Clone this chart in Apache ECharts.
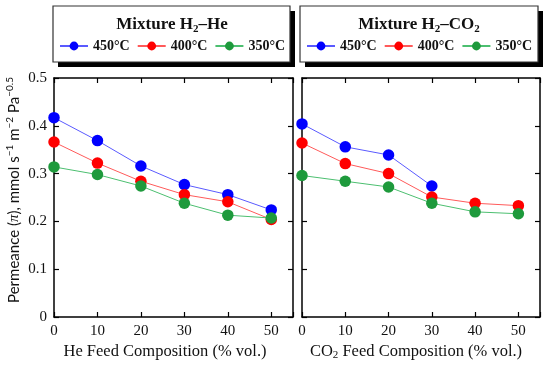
<!DOCTYPE html>
<html><head><meta charset="utf-8">
<script src="https://cdn.jsdelivr.net/npm/echarts@6/dist/echarts.min.js"></script>
<style>html,body{margin:0;padding:0;background:#fff}#c{width:550px;height:365px}</style>
</head><body><div id="c"></div><script>
// Data
const xHe = [0, 10, 20, 30, 40, 50];
const he450 = [0.417, 0.369, 0.316, 0.277, 0.256, 0.224];
const he400 = [0.366, 0.322, 0.284, 0.256, 0.241, 0.204];
const he350 = [0.314, 0.298, 0.274, 0.238, 0.213, 0.207];
const xCo2 = [0, 10, 20, 30, 40, 50];
const co450 = [0.404, 0.356, 0.339, 0.274];
const co400 = [0.364, 0.321, 0.300, 0.251, 0.238, 0.233];
const co350 = [0.296, 0.284, 0.272, 0.238, 0.220, 0.216];
const names = ['450°C', '400°C', '350°C'];
const colors = ['#0000ff', '#ff0000', '#1e9a3c'];
const lineColors = ['#5a5aff', '#ff5a5a', '#4cbf70'];

const pairs = (xs, ys) => ys.map((y, i) => [xs[i], y]);
const serif = '"Liberation Serif", "DejaVu Serif", serif';
const sans = '"Lato", "Noto Sans", sans-serif';

function mkSeries(xs, sets, gi) {
  return sets.map((ys, i) => ({
    type: 'line', name: names[i], xAxisIndex: gi * 2, yAxisIndex: gi * 2,
    data: pairs(xs, ys), symbol: 'circle', symbolSize: 11.5,
    itemStyle: { color: colors[i] },
    lineStyle: { color: lineColors[i], width: 1 },
    animation: false, z: 3 + i
  }));
}

const grids = [
  { left: 54, right: 257, top: 78, bottom: 48 },
  { left: 302, right: 10, top: 78, bottom: 48 }
];
const axisLine = { show: true, onZero: false, lineStyle: { color: '#000', width: 1.5 } };
const tick = { show: true, inside: true, length: 5, lineStyle: { color: '#000', width: 1.2 } };
const xAxes = [], yAxes = [];
grids.forEach((g, gi) => {
  xAxes.push({ type: 'value', gridIndex: gi, min: 0, max: 55, interval: 10, position: 'bottom',
    axisLine, axisTick: tick, splitLine: { show: false },
    axisLabel: { fontFamily: serif, fontSize: 15, color: '#111', margin: 7, formatter: v => v > 50 ? '' : String(v) } });
  xAxes.push({ type: 'value', gridIndex: gi, min: 0, max: 55, interval: 10, position: 'top',
    axisLine, axisTick: tick, splitLine: { show: false }, axisLabel: { show: false } });
  yAxes.push({ type: 'value', gridIndex: gi, min: 0, max: 0.5, interval: 0.1, position: 'left',
    axisLine, axisTick: tick, splitLine: { show: false },
    axisLabel: { show: gi === 0, fontFamily: serif, fontSize: 15, color: '#111', margin: 7,
      formatter: v => v === 0 ? '0' : v.toFixed(1) } });
  yAxes.push({ type: 'value', gridIndex: gi, min: 0, max: 0.5, interval: 0.1, position: 'right',
    axisLine, axisTick: tick, splitLine: { show: false }, axisLabel: { show: false } });
});

function legendBox(x, w) {
  return [
    { type: 'rect', shape: { x: x + 5, y: 11, width: w, height: 56 }, style: { fill: '#000' }, z: 0 },
    { type: 'rect', shape: { x: x, y: 6, width: w, height: 56 }, style: { fill: '#fff', stroke: '#333', lineWidth: 1.2 }, z: 1 }
  ];
}
const titleRich = {
  b: { fontFamily: serif, fontWeight: 'bold', fontSize: 17, fill: '#111' },
  s: { fontFamily: serif, fontWeight: 'bold', fontSize: 11, fill: '#111', verticalAlign: 'bottom', padding: [9, 0, 0, 0] }
};
const supRich = {
  n: { fontFamily: sans, fontSize: 15, fill: '#111' },
  i: { fontFamily: serif, fontStyle: 'italic', fontSize: 15, fill: '#111' },
  p: { fontFamily: sans, fontSize: 10, fill: '#111', verticalAlign: 'top', padding: [0, 0, 8, 0] }
};
const xnameRich = {
  n: { fontFamily: serif, fontSize: 16.5, fill: '#111' },
  s: { fontFamily: serif, fontSize: 11, fill: '#111', verticalAlign: 'bottom', padding: [7, 0, 0, 0] }
};
const legendText = { fontFamily: serif, fontWeight: 'bold', fontSize: 14, color: '#111' };

const chart = echarts.init(document.getElementById('c'), null, { renderer: 'canvas' });
chart.setOption({
  animation: false,
  grid: grids,
  xAxis: xAxes,
  yAxis: yAxes,
  legend: [
    { data: names, left: 59, top: 39, padding: 0, width: 260, itemWidth: 28, itemHeight: 11, itemGap: 7, z: 10, textStyle: legendText },
    { data: names, left: 306, top: 39, padding: 0, width: 260, itemWidth: 28, itemHeight: 11, itemGap: 7, z: 10, textStyle: legendText }
  ],
  graphic: [
    ...legendBox(53, 237),
    ...legendBox(300, 238),
    { type: 'text', x: 172, y: 25, z: 5,
      style: { text: '{b|Mixture H}{s|2}{b|–He}', rich: titleRich, textAlign: 'center', textVerticalAlign: 'middle' } },
    { type: 'text', x: 419, y: 25, z: 5,
      style: { text: '{b|Mixture H}{s|2}{b|–CO}{s|2}', rich: titleRich, textAlign: 'center', textVerticalAlign: 'middle' } },
    { type: 'text', x: 14, y: 190, rotation: Math.PI / 2, z: 5,
      style: { text: '{n|Permeance (}{i|π}{n|), mmol s}{p|−1}{n| m}{p|−2}{n| Pa}{p|−0.5}', rich: supRich, textAlign: 'center', textVerticalAlign: 'middle' } },
    { type: 'text', x: 165, y: 352, z: 5,
      style: { text: '{n|He Feed Composition (% vol.)}', rich: xnameRich, textAlign: 'center', textVerticalAlign: 'middle' } },
    { type: 'text', x: 416, y: 352, z: 5,
      style: { text: '{n|CO}{s|2}{n| Feed Composition (% vol.)}', rich: xnameRich, textAlign: 'center', textVerticalAlign: 'middle' } }
  ],
  series: [
    ...mkSeries(xHe, [he450, he400, he350], 0),
    ...mkSeries(xCo2, [co450, co400, co350], 1)
  ]
});
</script></body></html>
